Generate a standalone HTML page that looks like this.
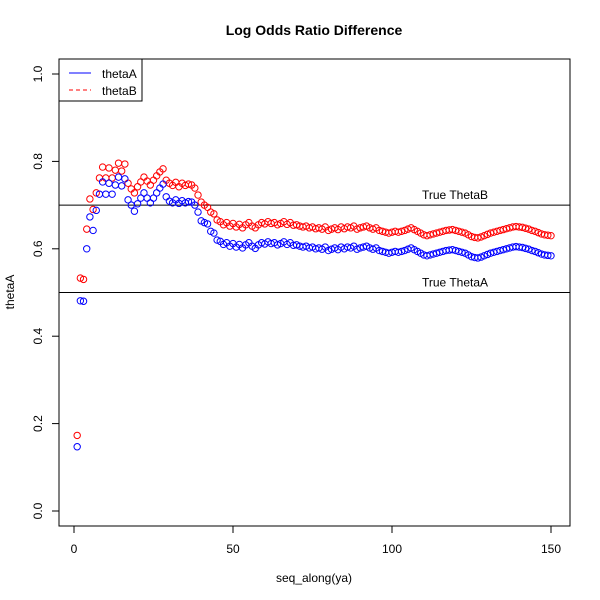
<!DOCTYPE html>
<html><head><meta charset="utf-8"><style>
body{margin:0;background:#fff}
svg{display:block;font-family:"Liberation Sans",Arial,sans-serif}
</style></head><body>
<svg id="chart" width="600" height="600" viewBox="0 0 600 600">
<text x="314" y="35" text-anchor="middle" font-size="14" font-weight="bold">Log Odds Ratio Difference</text>
<rect x="59" y="59" width="511" height="467" fill="none" stroke="#000"/>
<text x="314" y="582" text-anchor="middle" font-size="12">seq_along(ya)</text>
<text transform="translate(14,292) rotate(-90)" text-anchor="middle" font-size="12">thetaA</text>
<g id="axes"></g>
<g id="pts"></g>
<g>
<rect x="59" y="59" width="83" height="42" fill="#fff" stroke="#000"/>
<line x1="69" y1="73" x2="91" y2="73" stroke="#00f"/>
<text x="102" y="78" font-size="12">thetaA</text>
<line x1="69" y1="90" x2="91" y2="90" stroke="#f00" stroke-dasharray="4,3"/>
<text x="102" y="95" font-size="12">thetaB</text>
</g>
</svg>
<script>
const xTicks=[0,50,100,150];
const yTicks=[0.0,0.2,0.4,0.6,0.8,1.0];
const yTickLabels=["0.0","0.2","0.4","0.6","0.8","1.0"];
const refValues=[0.7,0.5];
const refLabels=["True ThetaB","True ThetaA"];
const thetaB=[0.173,0.533,0.530,0.645,0.714,0.690,0.728,0.762,0.787,0.762,0.785,0.762,0.780,0.796,0.778,0.794,0.750,0.737,0.728,0.742,0.753,0.764,0.755,0.746,0.757,0.767,0.776,0.783,0.757,0.750,
0.745,0.752,0.742,0.750,0.745,0.748,0.746,0.739,0.723,0.707,0.700,0.695,0.684,0.680,0.666,
0.662,0.655,0.660,0.652,0.658,
0.650,0.656,0.648,0.655,0.660,0.652,0.648,0.655,0.660,0.657,
0.662,0.658,0.660,0.655,0.658,0.662,0.656,0.660,0.654,0.655,
0.652,0.650,0.652,0.648,0.650,0.646,0.648,0.645,0.650,0.642,
0.645,0.648,0.644,0.650,0.646,0.650,0.648,0.652,0.645,0.648,
0.650,0.652,0.648,0.645,0.648,0.642,0.640,0.638,0.636,0.638,
0.640,0.638,0.640,0.642,0.645,0.648,0.644,0.640,0.636,0.632,
0.630,0.632,0.634,0.636,0.638,0.640,0.642,0.643,0.644,0.642,
0.640,0.638,0.636,0.632,0.628,0.626,0.625,0.627,0.630,0.633,
0.636,0.638,0.640,0.642,0.644,0.646,0.648,0.650,0.651,0.650,
0.649,0.647,0.645,0.642,0.640,0.637,0.634,0.632,0.631,0.630];
const thetaA=[0.147,0.481,0.480,0.600,0.673,0.642,0.688,0.725,0.753,0.725,0.750,0.725,0.746,0.764,0.744,0.760,0.712,0.700,0.686,0.703,0.716,0.728,0.716,0.705,0.716,0.728,0.739,0.748,0.719,0.709,
0.705,0.712,0.704,0.710,0.705,0.708,0.707,0.700,0.684,0.664,0.660,0.657,0.640,0.636,0.620,
0.617,0.610,0.614,0.606,0.612,
0.604,0.610,0.602,0.609,0.614,0.606,0.601,0.609,0.614,0.611,
0.616,0.612,0.614,0.609,0.612,0.616,0.610,0.614,0.608,0.609,
0.606,0.604,0.606,0.602,0.604,0.600,0.602,0.599,0.604,0.596,
0.599,0.602,0.598,0.604,0.600,0.604,0.602,0.606,0.599,0.602,
0.604,0.606,0.602,0.599,0.602,0.596,0.594,0.592,0.590,0.592,
0.594,0.592,0.594,0.596,0.599,0.602,0.598,0.594,0.590,0.586,
0.584,0.586,0.588,0.590,0.592,0.594,0.596,0.597,0.598,0.596,
0.594,0.592,0.590,0.586,0.582,0.580,0.579,0.581,0.584,0.587,
0.590,0.592,0.594,0.596,0.598,0.600,0.602,0.604,0.605,0.604,
0.603,0.601,0.599,0.596,0.594,0.591,0.588,0.586,0.585,0.584];

const NS="http://www.w3.org/2000/svg";
function xs(i){return 74+i*(551-74)/150;}
function ys(v){return 511-v*437;}
function mk(tag,attrs,parent){const e=document.createElementNS(NS,tag);for(const k in attrs)e.setAttribute(k,attrs[k]);parent.appendChild(e);return e;}
const axes=document.getElementById('axes');
xTicks.forEach(t=>{
  const l=mk('line',{x1:xs(t),x2:xs(t),y1:526,y2:533,stroke:'#000'},axes);
  
  
  const tx=mk('text',{x:xs(t),y:553,'text-anchor':'middle','font-size':12},axes);
  tx.textContent=t;
  
  
});
mk('line',{x1:xs(0),x2:xs(150),y1:526,y2:526,stroke:'#000'},axes);
yTicks.forEach((t,k)=>{
  const l=mk('line',{x1:52,x2:59,y1:ys(t),y2:ys(t),stroke:'#000'},axes);
  
  
  const tx=mk('text',{transform:`translate(42,${ys(t)}) rotate(-90)`,'text-anchor':'middle','font-size':12},axes);
  tx.textContent=yTickLabels[k];
  
  
});
refValues.forEach((v,k)=>{
  const l=mk('line',{x1:59,x2:570,y1:ys(v),y2:ys(v),stroke:'#000'},axes);
  
  
  const tx=mk('text',{x:455,y:ys(v)-6,'text-anchor':'middle','font-size':12},axes);
  tx.textContent=refLabels[k];
  
  
});
const pts=document.getElementById('pts');
thetaB.forEach((v,i)=>{
  const c=mk('circle',{cx:xs(i+1),cy:ys(v),r:3.2,fill:'none',stroke:'#f00','stroke-width':1},pts);
  
  
});
thetaA.forEach((v,i)=>{
  const c=mk('circle',{cx:xs(i+1),cy:ys(v),r:3.2,fill:'none',stroke:'#00f','stroke-width':1},pts);
  
  
});
</script>
</body></html>
